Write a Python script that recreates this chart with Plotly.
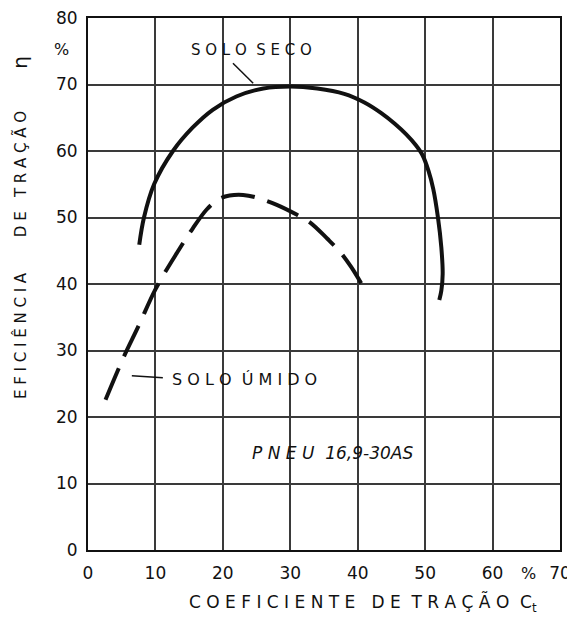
import plotly.graph_objects as go

# ---- data ----
seco_x = [7.6, 8.3, 9.8, 12.6, 15.5, 18.5, 22, 26, 30, 34, 38, 41, 43.5, 45.5, 47.2, 48.6, 49.6, 50.5, 51.2, 51.9, 52.4, 52.6, 52.4, 52.1]
seco_y = [45.9, 50, 55, 60, 63.5, 66.2, 68.2, 69.4, 69.7, 69.4, 68.6, 67.3, 65.7, 64.1, 62.5, 60.9, 59.4, 57.0, 54.3, 50, 45.5, 41.5, 39, 37.6]

umido_x = [2.6, 5.2, 7.5, 10, 13.2, 15.5, 17.6, 19.3, 21, 23, 25, 28, 31, 33, 35.5, 37.4, 39, 41.1]
umido_y = [22.6, 28.8, 33.7, 39.2, 44.7, 48.3, 51.2, 52.7, 53.3, 53.4, 53, 51.9, 50.4, 49.2, 46.8, 44.8, 42.6, 39.1]

x_ticks = [0, 10, 20, 30, 40, 50, 60, 70]
x_tick_labels = ["0", "10", "20", "30", "40", "50", "60", "70"]
y_ticks = [0, 10, 20, 30, 40, 50, 60, 70, 80]
y_tick_labels = ["0", "10", "20", "30", "40", "50", "60", "70", "80"]

X_MAX, Y_MAX = 70, 80
FONT = "DejaVu Sans"
INK = "#111111"

fig = go.Figure()
fig.add_trace(go.Scatter(x=seco_x, y=seco_y, mode="lines", line=dict(color=INK, width=4, shape="spline", smoothing=1),
                         name="Solo seco", showlegend=False))
fig.add_trace(go.Scatter(x=umido_x, y=umido_y, mode="lines",
                         line=dict(color=INK, width=4, shape="spline", smoothing=1, dash="34px,13px"),
                         name="Solo úmido", showlegend=False))

axis_common = dict(showgrid=True, gridcolor="#3a3a3a", gridwidth=1.5, zeroline=False,
                   showline=True, linecolor=INK, linewidth=2, mirror=True, ticks="",
                   automargin=False, ticklabeloverflow="allow",
                   tickfont=dict(family=FONT, size=17, color=INK))

fig.update_xaxes(range=[0, X_MAX], tickvals=x_ticks, ticktext=x_tick_labels, ticklabelstandoff=7, **axis_common)
fig.update_yaxes(range=[0, Y_MAX], tickvals=y_ticks, ticktext=y_tick_labels, ticklabelstandoff=5, **axis_common)


def paper(x, y):
    return dict(xref="paper", yref="paper", x=x / X_MAX, y=y / Y_MAX)


C = dict(xanchor="center", yanchor="middle", showarrow=False)
annotations = [
    dict(x=24.2, y=75.2, text="S O L O  S E C O", font=dict(family=FONT, size=15, color=INK), **C),
    dict(x=23.2, y=25.6, text="S O L O  Ú M I D O", font=dict(family=FONT, size=16, color=INK), **C),
    dict(x=36.2, y=14.6, text="<i>P N E U  16,9-30AS</i>", font=dict(family=FONT, size=17, color=INK), **C),
    dict(**paper(-3.9, 75.3), text="%", font=dict(family=FONT, size=16, color=INK), **C),
    dict(**paper(65.4, -3.5), text="%", font=dict(family=FONT, size=16, color=INK), **C),
    dict(**paper(-10.1, 32.3), text="E F I C I Ê N C I A", textangle=-90, font=dict(family=FONT, size=15, color=INK), **C),
    dict(**paper(-10.1, 56.5), text="D E   T R A Ç Ã O", textangle=-90, font=dict(family=FONT, size=15, color=INK), **C),
    dict(**paper(-10.1, 73.4), text="η", textangle=-90, font=dict(family=FONT, size=20, color=INK), **C),
    dict(**paper(40.8, -8.0), text="C O E F I C I E N T E   D E  T R A Ç Ã O  C<sub>t</sub>",
         font=dict(family=FONT, size=17, color=INK), **C),
]
fig.update_layout(annotations=annotations)

# leader lines
fig.add_shape(type="line", x0=21.5, y0=73.2, x1=24.5, y1=70.2, line=dict(color=INK, width=1.5))
fig.add_shape(type="line", x0=6.5, y0=26.2, x1=11.1, y1=25.9, line=dict(color=INK, width=1.5))

# page body has an 8px margin; size the figure so it fits the 575x622 window
fig.update_layout(width=567, height=614, margin=dict(l=80, r=15, t=10, b=72),
                  paper_bgcolor="white", plot_bgcolor="white", showlegend=False)

fig.write_html("out.html")
